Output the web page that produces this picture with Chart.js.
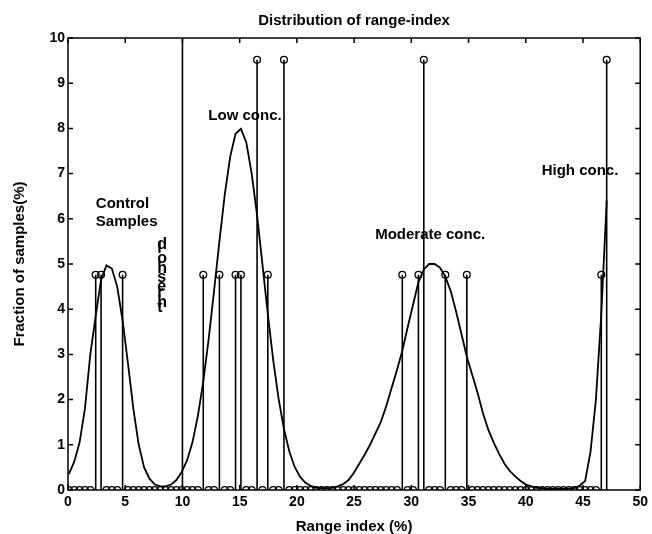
<!DOCTYPE html>
<html>
<head>
<meta charset="utf-8">
<script src="https://cdn.jsdelivr.net/npm/chart.js@4/dist/chart.umd.min.js"></script>
<style>
  html, body { margin: 0; padding: 0; background: #fff; }
  canvas { display: block; }
</style>
</head>
<body>
<canvas id="c" width="652" height="534"></canvas>
<script>
// ---- data ----
const rangeIndex = [
  0.07,0.54,1.01,1.48,1.95,2.42,2.89,3.36,3.83,4.30,
  4.77,5.24,5.71,6.18,6.65,7.12,7.59,8.06,8.53,9.00,
  9.47,9.94,10.41,10.88,11.35,11.82,12.29,12.76,13.23,13.70,
  14.17,14.64,15.11,15.58,16.05,16.52,16.99,17.46,17.93,18.40,
  18.87,19.34,19.81,20.28,20.75,21.22,21.69,22.16,22.63,23.10,
  23.57,24.04,24.51,24.98,25.45,25.92,26.39,26.86,27.33,27.80,
  28.27,28.74,29.21,29.68,30.15,30.62,31.09,31.56,32.03,32.50,
  32.97,33.44,33.91,34.38,34.85,35.32,35.79,36.26,36.73,37.20,
  37.67,38.14,38.61,39.08,39.55,40.02,40.49,40.96,41.43,41.90,
  42.37,42.84,43.31,43.78,44.25,44.72,45.19,45.66,46.13,46.60,
  47.07
];
const fraction = [
  0,0,0,0,0,4.76,4.76,0,0,0,
  4.76,0,0,0,0,0,0,0,0,0,
  0,0,0,0,0,4.76,0,0,4.76,0,
  0,4.76,4.76,0,0,9.52,0,4.76,0,0,
  9.52,0,0,0,0,0,0,0,0,0,
  0,0,0,0,0,0,0,0,0,0,
  0,0,4.76,0,0,4.76,9.52,0,0,0,
  4.76,0,0,0,4.76,0,0,0,0,0,
  0,0,0,0,0,0,0,0,0,0,
  0,0,0,0,0,0,0,0,0,4.76,
  9.52
];
const fittedCurve = [
  0.35,0.62,1.05,1.8,3.0,3.85,4.65,4.97,4.9,4.5,
  3.75,2.8,1.8,1.0,0.5,0.25,0.12,0.08,0.08,0.12,
  0.22,0.4,0.66,1.06,1.64,2.4,3.34,4.4,5.5,6.54,
  7.37,7.88,7.99,7.69,7.0,6.08,4.99,3.89,2.88,2.02,
  1.35,0.85,0.51,0.29,0.16,0.09,0.05,0.04,0.04,0.05,
  0.08,0.13,0.22,0.38,0.58,0.78,1.0,1.25,1.5,1.85,
  2.25,2.65,3.08,3.6,4.1,4.6,4.88,5.0,5.0,4.92,
  4.72,4.4,3.95,3.45,2.95,2.55,2.15,1.7,1.33,1.05,
  0.8,0.58,0.42,0.3,0.2,0.12,0.08,0.05,0.04,0.03,
  0.03,0.03,0.03,0.03,0.04,0.1,0.2,0.85,2.0,3.9,
  6.4
];
const thresholdX = 10;
const thresholdLabel = "threshold";
const groupLabels = ["Control", "Samples", "Low conc.", "Moderate conc.", "High conc."];
const groupLabelX = [2.43, 2.43, 12.26, 26.84, 41.39];
const groupLabelY = [6.34, 5.94, 8.28, 5.65, 7.07];
const xTickStep = 5;
const yTickStep = 1;

// ---- datasets built from the arrays ----
const stemPoints = [];
const markerPoints = [];
for (let i = 0; i < rangeIndex.length; i++) {
  stemPoints.push({x: rangeIndex[i], y: 0});
  stemPoints.push({x: rangeIndex[i], y: fraction[i]});
  stemPoints.push({x: rangeIndex[i], y: null});
  markerPoints.push({x: rangeIndex[i], y: fraction[i]});
}
const curvePoints = rangeIndex.map((x, i) => ({x: x, y: fittedCurve[i]}));
const thresholdPoints = [{x: thresholdX, y: 0}, {x: thresholdX, y: 10}];

const FONT = "'Liberation Sans', Arial, Helvetica, sans-serif";

const boxPlugin = {
  id: 'boxTicks',
  afterDraw(chart) {
    const {ctx, chartArea: a, scales: {x, y}} = chart;
    ctx.save();
    ctx.strokeStyle = '#000';
    ctx.lineWidth = 1.5;
    ctx.strokeRect(a.left, a.top, a.right - a.left, a.bottom - a.top);
    const L = 5;
    ctx.beginPath();
    x.ticks.forEach(t => {
      const px = x.getPixelForValue(t.value);
      ctx.moveTo(px, a.bottom); ctx.lineTo(px, a.bottom - L);
      ctx.moveTo(px, a.top); ctx.lineTo(px, a.top + L);
    });
    y.ticks.forEach(t => {
      const py = y.getPixelForValue(t.value);
      ctx.moveTo(a.left, py); ctx.lineTo(a.left + L, py);
      ctx.moveTo(a.right, py); ctx.lineTo(a.right - L, py);
    });
    ctx.stroke();

    // group labels
    ctx.fillStyle = '#000';
    ctx.font = "bold 15px " + FONT;
    ctx.textAlign = 'left';
    ctx.textBaseline = 'middle';
    groupLabels.forEach((s, i) => {
      ctx.fillText(s, x.getPixelForValue(groupLabelX[i]), y.getPixelForValue(groupLabelY[i]));
    });

    // threshold label: upright glyphs stacked bottom-to-top
    ctx.font = "bold 16px " + FONT;
    ctx.textBaseline = 'alphabetic';
    let px = x.getPixelForValue(7.8);
    let py = y.getPixelForValue(3.94);
    for (const ch of thresholdLabel) {
      ctx.fillText(ch, px, py);
      py -= ctx.measureText(ch).width;
    }
    ctx.restore();
  }
};

new Chart(document.getElementById('c'), {
  type: 'scatter',
  data: {
    datasets: [
      { data: stemPoints, showLine: true, spanGaps: false, borderColor: '#000', borderWidth: 1.6, pointRadius: 0, tension: 0 },
      { data: markerPoints, showLine: false, pointRadius: 3.4, pointStyle: 'circle', borderColor: '#000', backgroundColor: 'rgba(0,0,0,0)', pointBorderWidth: 1.3 },
      { data: curvePoints, showLine: true, borderColor: '#000', borderWidth: 1.8, pointRadius: 0, tension: 0 },
      { data: thresholdPoints, showLine: true, borderColor: '#000', borderWidth: 1.6, pointRadius: 0 }
    ]
  },
  options: {
    responsive: false,
    animation: false,
    devicePixelRatio: 1,
    layout: { padding: { left: 0, right: 9, top: 0, bottom: 0 } },
    plugins: {
      legend: { display: false },
      tooltip: { enabled: false },
      title: {
        display: true,
        fullSize: false,
        text: 'Distribution of range-index',
        color: '#000',
        font: { family: FONT, size: 15, weight: 'bold', lineHeight: 1.2 },
        padding: { top: 12, bottom: 8 }
      }
    },
    scales: {
      x: {
        type: 'linear', min: 0, max: 50,
        ticks: { stepSize: xTickStep, color: '#000', font: { family: FONT, size: 14, weight: 'bold' }, padding: 4, maxRotation: 0 },
        grid: { display: false, drawTicks: false },
        border: { display: false },
        title: { display: true, text: 'Range index (%)', color: '#000', font: { family: FONT, size: 15, weight: 'bold', lineHeight: 1 }, padding: 0 },
        afterFit(s) { s.height = 44; }
      },
      y: {
        type: 'linear', min: 0, max: 10,
        ticks: { stepSize: yTickStep, color: '#000', font: { family: FONT, size: 14, weight: 'bold' }, padding: 3 },
        grid: { display: false, drawTicks: false },
        border: { display: false },
        title: { display: true, text: 'Fraction of samples(%)', color: '#000', font: { family: FONT, size: 15, weight: 'bold', lineHeight: 1.2 }, padding: { top: 11, bottom: 0 } },
        afterFit(s) { s.width = 68; }
      }
    }
  },
  plugins: [boxPlugin]
});
</script>
</body>
</html>
